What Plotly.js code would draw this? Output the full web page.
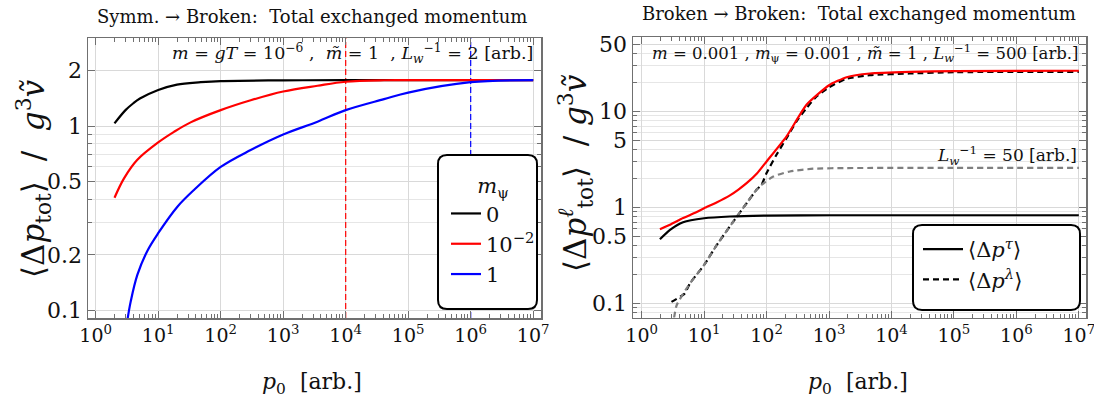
<!DOCTYPE html>
<html><head><meta charset="utf-8">
<script src="https://cdn.plot.ly/plotly-3.0.1.min.js"></script>
<style>html,body{margin:0;padding:0;background:#fff}</style>
</head><body><div id="chart" style="width:1094px;height:403px"></div>
<script>
// ---------- Left panel: Symm -> Broken, total exchanged momentum ----------
const leftBlackX = [2, 3, 4, 5.1, 10, 20, 48, 100, 1000, 1e4, 1e7];
const leftBlackY = [1.034, 1.22, 1.33, 1.41, 1.57, 1.68, 1.73, 1.755, 1.77, 1.775, 1.775];
const leftRedX = [2, 2.84, 4.6, 10, 17.9, 33, 100, 302, 1000, 3540, 1e4, 4.1e4, 1e5, 1e7];
const leftRedY = [0.408, 0.52, 0.654, 0.815, 0.93, 1.047, 1.22, 1.38, 1.54, 1.655, 1.74, 1.773, 1.775, 1.775];
const leftBlueX = [3.21, 3.63, 4.64, 6.7, 10, 20.3, 37.4, 100, 302, 1000, 3540, 1e4, 4.1e4, 1e5, 1e6, 1e7];
const leftBlueY = [0.088, 0.1114, 0.1555, 0.21, 0.262, 0.365, 0.45, 0.60, 0.741, 0.90, 1.056, 1.22, 1.40, 1.52, 1.73, 1.775];
const leftNames = ["0", "10<sup>−2</sup>", "1"];
const leftMarkLines = [1e4, 1e6];   // p0 values of the dashed reference lines (red, blue)

// ---------- Right panel: Broken -> Broken ----------
const rightRedX = [1.96, 3, 4.6, 7, 10, 15.8, 25.9, 35, 47.9, 70, 100, 209, 436, 1000, 1910, 4500, 19500, 1e5, 1e7];
const rightRedY = [0.589, 0.67, 0.77, 0.87, 0.976, 1.12, 1.33, 1.52, 1.78, 2.25, 3.0, 5.48, 11.7, 18.7, 22.7, 24.8, 25.8, 26.3, 26.5];
const rightTauX = [1.96, 2.84, 4.6, 10, 25.9, 100, 1000, 1e7];
const rightTauY = [0.463, 0.58, 0.697, 0.767, 0.80, 0.818, 0.825, 0.825];
const rightLamX = [3.0, 4.9, 5.9, 10, 15.8, 29.3, 47.9, 69, 83, 100, 144, 209, 302, 436, 631, 1000, 1910, 4500, 19500, 1e5, 1e7];
const rightLamY = [0.103, 0.126, 0.16, 0.25, 0.40, 0.708, 1.10, 1.52, 1.71, 2.27, 3.52, 5.26, 7.86, 10.8, 14.3, 17.8, 21.9, 23.8, 24.8, 25.6, 25.8];
const rightLam50X = [3.3, 3.63, 5.9, 10, 15.8, 29.3, 47.9, 69, 83, 128, 236, 558, 1910, 1e5, 1e7];
const rightLam50Y = [0.07, 0.095, 0.16, 0.25, 0.40, 0.708, 1.10, 1.52, 1.71, 2.09, 2.36, 2.52, 2.56, 2.57, 2.57];
const rightNames = ["⟨Δ<i>p</i><sup><i>τ</i></sup>⟩", "⟨Δ<i>p</i><sup><i>λ</i></sup>⟩"];

// ---------- ticks ----------
const xTickVals = [1, 10, 100, 1e3, 1e4, 1e5, 1e6, 1e7];
const xTickText = ["10<sup>0</sup>", "10<sup>1</sup>", "10<sup>2</sup>", "10<sup>3</sup>", "10<sup>4</sup>", "10<sup>5</sup>", "10<sup>6</sup>", "10<sup>7</sup>"];
const leftYTickVals = [0.1, 0.2, 0.5, 1, 2];
const leftYTickText = ["0.1", "0.2", "0.5", "1", "2"];
const rightYTickVals = [0.1, 0.5, 1, 5, 10, 50];
const rightYTickText = ["0.1", "0.5", "1", "5", "10", "50"];

// ---------- helpers ----------
function minorLog(lo, hi) {
  const out = [];
  for (let e = lo; e <= hi; e++) for (let m = 1; m <= 9; m++) out.push(+(m * Math.pow(10, e)).toPrecision(6));
  return out;
}
const FONT = "DejaVu Serif";
const W = 1094, H = 403;
const px = v => v / W, py = v => (H - v) / H;

const xRangeL = [-0.123, 7.125], xRangeR = [-0.139, 7.115];
const yRangeL = [-1.042, 0.478], yRangeR = [-1.15, 1.775];

function xAxis(domain, range, anchor) {
  return {
    type: 'log', domain: domain, range: range, anchor: anchor,
    tickmode: 'array', tickvals: xTickVals, ticktext: xTickText, ticklabeloverflow: 'allow',
    ticks: 'inside', ticklen: 7, tickwidth: 1, tickcolor: '#707070',
    showline: true, linecolor: '#707070', linewidth: 1.5, mirror: 'allticks',
    showgrid: true, gridcolor: '#d9d9d9', gridwidth: 1, zeroline: false,
    tickfont: {family: FONT, size: 19, color: '#111'},
    minor: {tickmode: 'array', tickvals: minorLog(0, 6).filter(v => !xTickVals.includes(v)),
            ticks: 'inside', ticklen: 4, tickcolor: '#707070', showgrid: false}
  };
}
function yAxis(domain, range, anchor, tv, tt, minorVals) {
  return {
    type: 'log', domain: domain, range: range, anchor: anchor,
    tickmode: 'array', tickvals: tv, ticktext: tt, ticklabeloverflow: 'allow',
    ticks: 'inside', ticklen: 7, tickwidth: 1, tickcolor: '#707070',
    showline: true, linecolor: '#707070', linewidth: 1.5, mirror: 'allticks',
    showgrid: true, gridcolor: '#d9d9d9', zeroline: false,
    tickfont: {family: FONT, size: 22, color: '#111'},
    minor: {tickmode: 'array', tickvals: minorVals.filter(v => !tv.includes(v)),
            ticks: 'inside', ticklen: 4, tickcolor: '#707070', showgrid: true, gridcolor: '#e6e6e6'}
  };
}
function roundRect(x0, y0, x1, y1, r) {  // pixel coords -> paper path
  const X = v => px(v).toFixed(5), Y = v => py(v).toFixed(5);
  return `M${X(x0 + r)},${Y(y0)} L${X(x1 - r)},${Y(y0)} Q${X(x1)},${Y(y0)} ${X(x1)},${Y(y0 + r)} ` +
         `L${X(x1)},${Y(y1 - r)} Q${X(x1)},${Y(y1)} ${X(x1 - r)},${Y(y1)} ` +
         `L${X(x0 + r)},${Y(y1)} Q${X(x0)},${Y(y1)} ${X(x0)},${Y(y1 - r)} ` +
         `L${X(x0)},${Y(y0 + r)} Q${X(x0)},${Y(y0)} ${X(x0 + r)},${Y(y0)} Z`;
}

const traces = [
  {x: [leftMarkLines[0], leftMarkLines[0]], y: [Math.pow(10, yRangeL[0]), Math.pow(10, yRangeL[1])],
   xaxis: 'x', yaxis: 'y', mode: 'lines', line: {color: '#ff0000', width: 1.2, dash: '6px,3px'}, showlegend: false, hoverinfo: 'skip'},
  {x: [leftMarkLines[1], leftMarkLines[1]], y: [Math.pow(10, yRangeL[0]), Math.pow(10, yRangeL[1])],
   xaxis: 'x', yaxis: 'y', mode: 'lines', line: {color: '#0000ff', width: 1.2, dash: '6px,3px'}, showlegend: false, hoverinfo: 'skip'},
  {x: leftBlackX, y: leftBlackY, xaxis: 'x', yaxis: 'y', mode: 'lines', name: leftNames[0],
   line: {color: '#000000', width: 2.2, shape: 'spline', smoothing: 1}, legend: 'legend'},
  {x: leftRedX, y: leftRedY, xaxis: 'x', yaxis: 'y', mode: 'lines', name: leftNames[1],
   line: {color: '#ff0000', width: 2.2, shape: 'spline', smoothing: 1}, legend: 'legend'},
  {x: leftBlueX, y: leftBlueY, xaxis: 'x', yaxis: 'y', mode: 'lines', name: leftNames[2],
   line: {color: '#0000ff', width: 2.2, shape: 'spline', smoothing: 1}, legend: 'legend'},
  {x: rightLamX, y: rightLamY, xaxis: 'x2', yaxis: 'y2', mode: 'lines', name: rightNames[1], legend: 'legend2', legendrank: 2,
   line: {color: '#000000', width: 2.2, dash: '6px,4px', shape: 'spline', smoothing: 0.5}},
  {x: rightLam50X, y: rightLam50Y, xaxis: 'x2', yaxis: 'y2', mode: 'lines', showlegend: false,
   line: {color: '#7f7f7f', width: 2.2, dash: '6px,4px', shape: 'spline', smoothing: 0.6}},
  {x: rightRedX, y: rightRedY, xaxis: 'x2', yaxis: 'y2', mode: 'lines', showlegend: false,
   line: {color: '#ff0000', width: 2.2, shape: 'spline', smoothing: 0.5}},
  {x: rightTauX, y: rightTauY, xaxis: 'x2', yaxis: 'y2', mode: 'lines', name: rightNames[0], legend: 'legend2', legendrank: 1,
   line: {color: '#000000', width: 2.2, shape: 'spline', smoothing: 0.6}}
];

const layout = {
  width: W, height: H, margin: {l: 0, r: 0, t: 0, b: 0},
  paper_bgcolor: '#ffffff', plot_bgcolor: '#ffffff',
  font: {family: FONT, color: '#111'},
  xaxis: xAxis([px(88), px(541)], xRangeL, 'y'),
  yaxis: yAxis([py(318), py(38)], yRangeL, 'x', leftYTickVals, leftYTickText, minorLog(-2, 0).filter(v => v >= 0.08 && v <= 3.1)),
  xaxis2: xAxis([px(633), px(1086)], xRangeR, 'y2'),
  yaxis2: yAxis([py(317.5), py(37)], yRangeR, 'x2', rightYTickVals, rightYTickText, minorLog(-2, 1).filter(v => v >= 0.07 && v <= 60)),
  legend: {
    x: px(446), y: py(166), xanchor: 'left', yanchor: 'top', bgcolor: 'rgba(0,0,0,0)', borderwidth: 0,
    title: {text: '<i>m</i><sub>ψ</sub>', side: 'top center', font: {family: FONT, size: 21}},
    font: {family: FONT, size: 21}, tracegroupgap: 0, itemwidth: 30
  },
  legend2: {
    x: px(918), y: py(229), xanchor: 'left', yanchor: 'top', bgcolor: 'rgba(0,0,0,0)', borderwidth: 0,
    font: {family: FONT, size: 21}, itemwidth: 40, traceorder: 'normal'
  },
  shapes: [
    {type: 'path', xref: 'paper', yref: 'paper', path: roundRect(438, 155, 537, 309, 9),
     line: {color: '#000', width: 2}, fillcolor: '#ffffff', layer: 'above'},
    {type: 'path', xref: 'paper', yref: 'paper', path: roundRect(913, 225, 1080, 310, 9),
     line: {color: '#000', width: 2}, fillcolor: '#ffffff', layer: 'above'}
  ],
  annotations: [
    {xref: 'paper', yref: 'paper', x: px(312), y: py(17), text: 'Symm. → Broken:  Total exchanged momentum',
     showarrow: false, font: {family: FONT, size: 18}, xanchor: 'center', yanchor: 'middle'},
    {xref: 'paper', yref: 'paper', x: px(859), y: py(14), text: 'Broken → Broken:  Total exchanged momentum',
     showarrow: false, font: {family: FONT, size: 18}, xanchor: 'center', yanchor: 'middle'},
    {xref: 'paper', yref: 'paper', x: px(535), y: py(53),
     text: '<i>m</i> = <i>gT</i> = 10<sup>−6</sup> ,  <i>m̃</i> = 1  , <i>L</i><sub><i>w</i></sub><sup>−1</sup> = 2 [arb.]',
     showarrow: false, font: {family: FONT, size: 17.5}, xanchor: 'right', yanchor: 'middle'},
    {xref: 'paper', yref: 'paper', x: px(1081), y: py(53),
     text: '<i>m</i> = 0.001 , <i>m</i><sub>ψ</sub> = 0.001 , <i>m̃</i> = 1 , <i>L</i><sub><i>w</i></sub><sup>−1</sup> = 500 [arb.]',
     showarrow: false, font: {family: FONT, size: 16.5}, xanchor: 'right', yanchor: 'middle'},
    {xref: 'paper', yref: 'paper', x: px(1079), y: py(155),
     text: '<i>L</i><sub><i>w</i></sub><sup>−1</sup> = 50 [arb.]',
     showarrow: false, font: {family: FONT, size: 17}, xanchor: 'right', yanchor: 'middle'},
    {xref: 'paper', yref: 'paper', x: px(312), y: py(383), text: '<i>p</i><sub>0</sub>  [arb.]',
     showarrow: false, font: {family: FONT, size: 22}, xanchor: 'center', yanchor: 'middle'},
    {xref: 'paper', yref: 'paper', x: px(858), y: py(383), text: '<i>p</i><sub>0</sub>  [arb.]',
     showarrow: false, font: {family: FONT, size: 22}, xanchor: 'center', yanchor: 'middle'},
    {xref: 'paper', yref: 'paper', x: px(33), y: py(179), textangle: -90,
     text: '⟨Δ<i>p</i><sub>tot</sub>⟩  /  <i>g</i><sup>3</sup><i>ṽ</i>',
     showarrow: false, font: {family: FONT, size: 31}, xanchor: 'center', yanchor: 'middle'},
    {xref: 'paper', yref: 'paper', x: px(575), y: py(173), textangle: -90,
     text: '⟨Δ<i>p</i><sup><i>ℓ</i></sup><sub>tot</sub>⟩  / <i>g</i><sup>3</sup><i>ṽ</i>',
     showarrow: false, font: {family: FONT, size: 31}, xanchor: 'center', yanchor: 'middle'}
  ]
};

Plotly.newPlot('chart', traces, layout, {staticPlot: true, displayModeBar: false});
</script>
</body></html>
